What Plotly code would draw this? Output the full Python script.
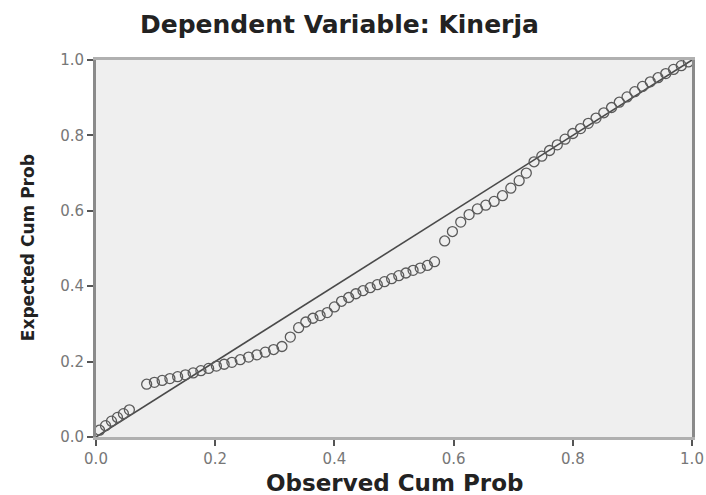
import plotly.graph_objects as go

# Observed vs expected cumulative probabilities
observed_cum_prob = [
    0.006, 0.016, 0.026, 0.036, 0.046, 0.056,
    0.085, 0.098, 0.111, 0.124, 0.137, 0.150, 0.163, 0.176, 0.189, 0.202, 0.215, 0.228,
    0.242, 0.256, 0.270, 0.284, 0.298, 0.312,
    0.326, 0.340, 0.352, 0.364, 0.376, 0.388,
    0.400, 0.412, 0.424, 0.436, 0.448, 0.460, 0.472, 0.484, 0.496, 0.508, 0.520,
    0.532, 0.544, 0.556, 0.568,
    0.585, 0.598, 0.612, 0.626, 0.640, 0.654, 0.668, 0.682, 0.696, 0.710, 0.722,
    0.735, 0.748, 0.761, 0.774, 0.787, 0.800, 0.813, 0.826, 0.839, 0.852, 0.865,
    0.878, 0.891, 0.904, 0.917, 0.930, 0.943, 0.956, 0.969, 0.982, 0.994,
]
expected_cum_prob = [
    0.018, 0.030, 0.042, 0.052, 0.062, 0.072,
    0.140, 0.145, 0.150, 0.155, 0.160, 0.165, 0.170, 0.176, 0.182, 0.188, 0.193, 0.198,
    0.205, 0.212, 0.218, 0.225, 0.232, 0.240,
    0.265, 0.290, 0.305, 0.315, 0.322, 0.330,
    0.345, 0.360, 0.370, 0.380, 0.388, 0.396, 0.404, 0.412, 0.420, 0.428, 0.435,
    0.442, 0.448, 0.455, 0.465,
    0.520, 0.545, 0.570, 0.590, 0.605, 0.615, 0.625, 0.640, 0.660, 0.680, 0.700,
    0.730, 0.745, 0.760, 0.775, 0.790, 0.805, 0.818, 0.832, 0.846, 0.860, 0.874,
    0.888, 0.902, 0.916, 0.930, 0.942, 0.953, 0.964, 0.975, 0.985, 0.995,
]
reference_line = [0.0, 1.0]
tick_values = [0.0, 0.2, 0.4, 0.6, 0.8, 1.0]
tick_labels = ["0.0", "0.2", "0.4", "0.6", "0.8", "1.0"]

title_text = "Dependent Variable: Kinerja"
x_title = "Observed Cum Prob"
y_title = "Expected Cum Prob"

fig = go.Figure()
fig.add_trace(go.Scatter(
    x=reference_line, y=reference_line, mode="lines",
    line=dict(color="#4a4a4a", width=1.6), showlegend=False, hoverinfo="skip",
))
fig.add_trace(go.Scatter(
    x=observed_cum_prob, y=expected_cum_prob, mode="markers",
    marker=dict(symbol="circle-open", size=10, color="#5a5a5a", line=dict(width=1.3)),
    showlegend=False,
))

axis_common = dict(
    range=[0, 1], tickvals=tick_values, ticktext=tick_labels,
    showgrid=False, zeroline=False, ticks="outside", ticklen=6, tickwidth=1.5,
    tickcolor="#555555", showline=True, mirror=True, ticklabeloverflow="allow",
    automargin=False,
    tickfont=dict(family="DejaVu Sans", size=15, color="#777777"),
)
fig.update_xaxes(**axis_common, linecolor="#b0b0b0", linewidth=3)
fig.update_yaxes(**axis_common, linecolor="#8a8a8a", linewidth=3)

fig.update_layout(
    width=706, height=495,
    margin=dict(l=96, r=14, t=60, b=58),
    paper_bgcolor="white", plot_bgcolor="#efefef",
    annotations=[
        dict(text=title_text, x=0.409, y=1.093, xref="paper", yref="paper",
             xanchor="center", yanchor="middle", showarrow=False,
             font=dict(family="DejaVu Sans", size=25, color="#222222", weight="bold")),
        dict(text=x_title, x=0.5, y=-0.122, xref="paper", yref="paper",
             xanchor="center", yanchor="middle", showarrow=False,
             font=dict(family="DejaVu Sans", size=23, color="#222222", weight="bold")),
        dict(text=y_title, x=-0.114, y=0.501, xref="paper", yref="paper",
             xanchor="center", yanchor="middle", showarrow=False, textangle=-90,
             font=dict(family="DejaVu Sans", size=17, color="#222222", weight="bold")),
    ],
)

# remove the default page margin so the 706x495 figure fills the window exactly
fig.write_html(
    "out.html",
    config={"responsive": False, "displayModeBar": False},
    post_script="document.body.style.margin='0px';document.body.style.overflow='hidden';",
)
